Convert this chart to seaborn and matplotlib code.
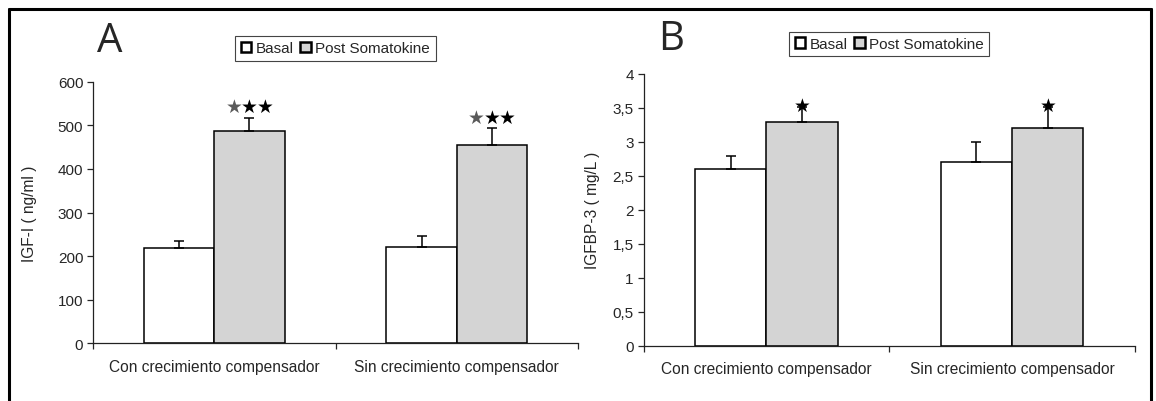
import numpy as np
import pandas as pd
import seaborn as sns
import matplotlib.pyplot as plt
from matplotlib.lines import Line2D
from matplotlib.patches import Patch
from matplotlib.ticker import FuncFormatter

# data
categories = ["Con crecimiento compensador", "Sin crecimiento compensador"]
groups = ["Basal", "Post Somatokine"]

igf_basal = [218, 220]
igf_post = [486, 454]
igf_basal_err = [16, 26]
igf_post_err = [31, 39]

igfbp_basal = [2.6, 2.7]
igfbp_post = [3.3, 3.2]
igfbp_basal_err = [0.2, 0.3]
igfbp_post_err = [0.22, 0.32]

bar_colors = ["white", "#d4d4d4"]

sns.set_style("ticks")
plt.rcParams['font.family'] = ['Liberation Sans', 'DejaVu Sans']

fig = plt.figure(figsize=(11.56, 4.02), dpi=100)
axA = fig.add_axes([93 / 1156, 1 - 344.3 / 402, 485 / 1156, 261.6 / 402])
axB = fig.add_axes([643.5 / 1156, 1 - 346.7 / 402, 491.5 / 1156, 271.7 / 402])


def draw_panel(ax, basal, post, basal_err, post_err, ymax, yticks, ylabel,
               label_x, legend_y, n_stars, star_size, star_dy):
    df = pd.DataFrame({
        "Grupo": categories * 2,
        "Tiempo": [groups[0]] * len(categories) + [groups[1]] * len(categories),
        "Valor": basal + post,
    })
    sns.barplot(data=df, x="Grupo", y="Valor", hue="Tiempo", order=categories,
                hue_order=groups, palette=bar_colors, saturation=1, width=0.58,
                gap=0, edgecolor="black", linewidth=1.1, errorbar=None,
                legend=False, ax=ax)

    # one-sided error bars on top of each bar
    for cont, errs in zip(ax.containers, [basal_err, post_err]):
        xs = [p.get_x() + p.get_width() / 2 for p in cont]
        ys = [p.get_height() for p in cont]
        ax.errorbar(xs, ys, yerr=[np.zeros(len(errs)), errs], fmt="none",
                    ecolor="black", elinewidth=1.1, capsize=3.6, capthick=1.1,
                    zorder=3)

    # significance stars above the post bars
    post_cont = ax.containers[1]
    for p, e in zip(post_cont, post_err):
        xc = p.get_x() + p.get_width() / 2
        top = p.get_height() + e
        offs = (np.arange(n_stars) - (n_stars - 1) / 2) * 11.3
        for i, dx in enumerate(offs):
            col = "#5a5a5a" if (n_stars > 1 and i == 0) else "black"
            ax.annotate("★", xy=(xc, top), xytext=(dx, star_dy),
                        textcoords="offset points", ha="center", va="center",
                        fontsize=star_size, color=col, family="DejaVu Sans",
                        zorder=5)

    ax.set_xlim(-0.5, len(categories) - 0.5)
    ax.set_ylim(0, ymax)
    ax.set_yticks(yticks)
    ax.yaxis.set_major_formatter(FuncFormatter(lambda v, pos: f"{v:g}".replace(".", ",")))
    ax.set_xlabel("")
    ax.set_ylabel(ylabel, fontsize=11.2)
    ax.yaxis.set_label_coords(label_x, 0.5)

    ax.set_xticks(np.arange(len(categories) + 1) - 0.5, minor=True)
    ax.tick_params(axis="x", which="major", length=0, pad=11, labelsize=11.2)
    ax.tick_params(axis="x", which="minor", length=4, width=0.9, direction="out")
    ax.tick_params(axis="y", length=4, width=0.9, pad=3, labelsize=11)

    sns.despine(ax=ax)
    for s in ["left", "bottom"]:
        ax.spines[s].set_linewidth(0.9)
        ax.spines[s].set_color("#222222")

    handles = [Patch(facecolor=c, edgecolor="black", linewidth=1.8) for c in bar_colors]
    ax.legend(handles, groups, loc="center", bbox_to_anchor=(0.5, legend_y), ncol=2,
              fontsize=11, frameon=True, fancybox=False, framealpha=1,
              edgecolor="#444444", handlelength=0.7, handleheight=0.7,
              handletextpad=0.3, columnspacing=0.4, borderpad=0.35)
    ax.get_legend().get_frame().set_linewidth(0.8)


draw_panel(axA, igf_basal, igf_post, igf_basal_err, igf_post_err, 600,
           [0, 100, 200, 300, 400, 500, 600], "IGF-I ( ng/ml )",
           -0.1155, 1.127, 3, 13.5, 8)
draw_panel(axB, igfbp_basal, igfbp_post, igfbp_basal_err, igfbp_post_err, 4,
           [0, 0.5, 1, 1.5, 2, 2.5, 3, 3.5, 4], "IGFBP-3 ( mg/L )",
           -0.089, 1.11, 1, 13.5, 1)

# panel letters
fig.text(97 / 1156, 1 - 52 / 402, "A", fontsize=29, family="Open Sans", va="baseline")
fig.text(658 / 1156, 1 - 50 / 402, "B", fontsize=29, family="Open Sans", va="baseline")

# outer frame (open at the bottom)
frame_kw = dict(color="black", linewidth=2.2, transform=fig.transFigure)
fig.add_artist(Line2D([8.5 / 1156, 8.5 / 1156], [-0.05, 1 - 9.5 / 402], **frame_kw))
fig.add_artist(Line2D([8.5 / 1156, 1150.5 / 1156], [1 - 9.5 / 402, 1 - 9.5 / 402], **frame_kw))
fig.add_artist(Line2D([1150.5 / 1156, 1150.5 / 1156], [-0.05, 1 - 9.5 / 402], **frame_kw))

fig.savefig("out.png", dpi=100)
